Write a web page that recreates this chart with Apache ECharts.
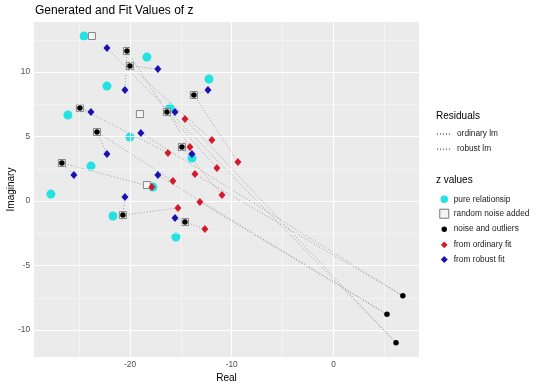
<!DOCTYPE html>
<html><head><meta charset="utf-8">
<script src="https://cdn.jsdelivr.net/npm/echarts@6/dist/echarts.min.js"></script>
<style>html,body{margin:0;padding:0;background:#fff}#c{width:540px;height:388px}</style>
</head><body><div id="c"></div>
<script>
// z values (Real / Imaginary parts), one entry per observation
const pureRe  = [-24.53, -18.34, -12.24, -22.27, -16.08, -26.11, -20.01, -13.91, -23.84, -17.75, -27.78, -21.68, -15.49];
const pureIm  = [12.79, 11.16, 9.46, 8.91, 7.21, 6.67, 4.96, 3.33, 2.71, 1.09, 0.54, -1.16, -2.79];
const noiseRe = [-23.75, -20.01, -13.72, -20.30, -16.37, -24.93, -19.03, -14.90, -23.25, -18.34, -26.70, -20.70, -14.60];
const noiseIm = [12.79, 10.47, 8.22, 11.63, 6.90, 7.21, 6.74, 4.19, 5.35, 1.24, 2.95, -1.09, -1.63];
const obsRe   = [6.15, -20.01, -13.72, -20.30, -16.37, -24.93, 6.82, -14.90, -23.25, 5.26, -26.70, -20.70, -14.60];
const obsIm   = [-10.99, 10.47, 8.22, 11.63, 6.90, 7.21, -7.34, 4.19, 5.35, -8.78, 2.95, -1.09, -1.63];
const olsRe   = [-14.60, -11.95, -9.39, -14.11, -11.46, -16.27, -13.62, -10.96, -15.78, -13.13, -17.85, -15.29, -12.64];
const olsIm   = [6.36, 4.73, 3.02, 4.19, 2.56, 3.72, 2.09, 0.47, 1.55, -0.08, 1.09, -0.54, -2.17];
const rlmRe   = [-22.27, -17.26, -12.34, -20.50, -15.58, -23.84, -18.93, -13.91, -22.27, -17.26, -25.52, -20.50, -15.58];
const rlmIm   = [11.86, 10.23, 8.60, 8.60, 6.90, 6.90, 5.27, 3.64, 3.64, 2.02, 2.02, 0.31, -1.32];

const xTicks = [-20, -10, 0];
const yTicks = [-10, -5, 0, 5, 10];
const xMinor = [-25, -15, -5, 5];
const yMinor = [-7.5, -2.5, 2.5, 7.5, 12.5];

const residNames = ['ordinary lm', 'robust lm'];
const zNames = ['pure relationsip', 'random noise added', 'noise and outliers', 'from ordinary fit', 'from robust fit'];

const FONT = '"Liberation Sans", Arial, Helvetica, sans-serif';
const pts = (re, im) => re.map((v, i) => [v, im[i]]);

const series = [];
// panel grid lines
series.push({
  type: 'scatter', data: [], silent: true, z: 1,
  markLine: {
    silent: true, symbol: 'none', animation: false, label: {show: false},
    emphasis: {disabled: true},
    data: [
      ...xMinor.map(v => ({xAxis: v, lineStyle: {color: '#fafafa', width: 0.55, type: 'solid'}})),
      ...yMinor.map(v => ({yAxis: v, lineStyle: {color: '#fafafa', width: 0.55, type: 'solid'}})),
      ...xTicks.map(v => ({xAxis: v, lineStyle: {color: '#ffffff', width: 1.1, type: 'solid'}})),
      ...yTicks.map(v => ({yAxis: v, lineStyle: {color: '#ffffff', width: 1.1, type: 'solid'}}))
    ]
  }
});
// residual segments
const segStyle = {color: '#8a8a8a', width: 0.8, type: [1, 2]};
obsRe.forEach((_, i) => {
  series.push({name: residNames[0], type: 'line', symbol: 'none', silent: true, z: 2,
    data: [[obsRe[i], obsIm[i]], [olsRe[i], olsIm[i]]], lineStyle: segStyle, itemStyle: {color: '#8a8a8a'}});
  series.push({name: residNames[1], type: 'line', symbol: 'none', silent: true, z: 2,
    data: [[obsRe[i], obsIm[i]], [rlmRe[i], rlmIm[i]]], lineStyle: segStyle, itemStyle: {color: '#8a8a8a'}});
});
series.push({name: zNames[0], type: 'scatter', z: 3, symbol: 'circle', symbolSize: 9,
  data: pts(pureRe, pureIm), itemStyle: {color: '#22e2e2', opacity: 1}});
series.push({name: zNames[1], type: 'scatter', z: 4, symbol: 'rect', symbolSize: 7,
  data: pts(noiseRe, noiseIm), itemStyle: {color: '#f4f4f4', borderColor: '#787878', borderWidth: 0.9, opacity: 1}});
series.push({name: zNames[2], type: 'scatter', z: 5, symbol: 'circle', symbolSize: 5.5,
  data: pts(obsRe, obsIm), itemStyle: {color: '#000000', opacity: 1}});
series.push({name: zNames[3], type: 'scatter', z: 6, symbol: 'diamond', symbolSize: [7, 8],
  data: pts(olsRe, olsIm), itemStyle: {color: '#d21a2a', opacity: 1}});
series.push({name: zNames[4], type: 'scatter', z: 7, symbol: 'diamond', symbolSize: [7, 8],
  data: pts(rlmRe, rlmIm), itemStyle: {color: '#1c10b2', opacity: 1}});

const legendText = {fontSize: 8.3, color: '#1a1a1a', fontFamily: FONT, lineHeight: 10};
const option = {
  animation: false,
  backgroundColor: '#ffffff',
  textStyle: {fontFamily: FONT},
  title: [
    {text: 'Generated and Fit Values of z', left: 35, top: 5, padding: 0,
     textStyle: {fontSize: 12, fontWeight: 'normal', color: '#000', fontFamily: FONT}},
    {text: 'Residuals', left: 436, top: 111, padding: 0,
     textStyle: {fontSize: 10, fontWeight: 'normal', color: '#000', fontFamily: FONT}},
    {text: 'z values', left: 436, top: 175, padding: 0,
     textStyle: {fontSize: 10, fontWeight: 'normal', color: '#000', fontFamily: FONT}}
  ],
  grid: {left: 34, right: 121, top: 22, bottom: 31, show: true, backgroundColor: '#ebebeb', borderWidth: 0,
         containLabel: false, outerBoundsMode: 'none'},
  xAxis: {
    type: 'value', min: -29.44, max: 8.41,
    name: 'Real', nameLocation: 'middle', nameGap: 16, nameMoveOverlap: false,
    nameTextStyle: {fontSize: 10, color: '#000', fontFamily: FONT},
    axisLine: {show: false}, splitLine: {show: false},
    axisTick: {show: true, length: 3, customValues: xTicks, lineStyle: {color: '#333', width: 1}},
    axisLabel: {customValues: xTicks, fontSize: 8.3, color: '#4d4d4d', margin: 4, fontFamily: FONT}
  },
  yAxis: {
    type: 'value', min: -12.09, max: 13.88,
    name: 'Imaginary', nameLocation: 'middle', nameGap: 18, nameMoveOverlap: false,
    nameTextStyle: {fontSize: 10, color: '#000', fontFamily: FONT},
    axisLine: {show: false}, splitLine: {show: false},
    axisTick: {show: true, length: 3, customValues: yTicks, lineStyle: {color: '#333', width: 1}},
    axisLabel: {customValues: yTicks, fontSize: 8.3, color: '#4d4d4d', margin: 4, fontFamily: FONT}
  },
  legend: [
    {data: residNames.map(n => ({name: n, itemStyle: {opacity: 0}})),
     orient: 'vertical', left: 436, top: 129, itemWidth: 15, itemHeight: 10, itemGap: 5.2,
     selectedMode: false, textStyle: legendText, padding: 0},
    {data: [
      {name: zNames[0], itemStyle: {borderColor: '#fff', borderWidth: 1.5}},
      {name: zNames[1], itemStyle: {borderColor: '#787878', borderWidth: 1}},
      {name: zNames[2], itemStyle: {borderColor: '#fff', borderWidth: 3.5}},
      {name: zNames[3], itemStyle: {borderColor: '#fff', borderWidth: 1.5}},
      {name: zNames[4], itemStyle: {borderColor: '#fff', borderWidth: 1.5}}
     ],
     orient: 'vertical', left: 438, top: 194, itemWidth: 9, itemHeight: 9, itemGap: 4.2,
     selectedMode: false, textStyle: legendText, padding: 0}
  ],
  series: series
};
const chart = echarts.init(document.getElementById('c'), null, {renderer: 'canvas'});
chart.setOption(option);
</script>
</body></html>
